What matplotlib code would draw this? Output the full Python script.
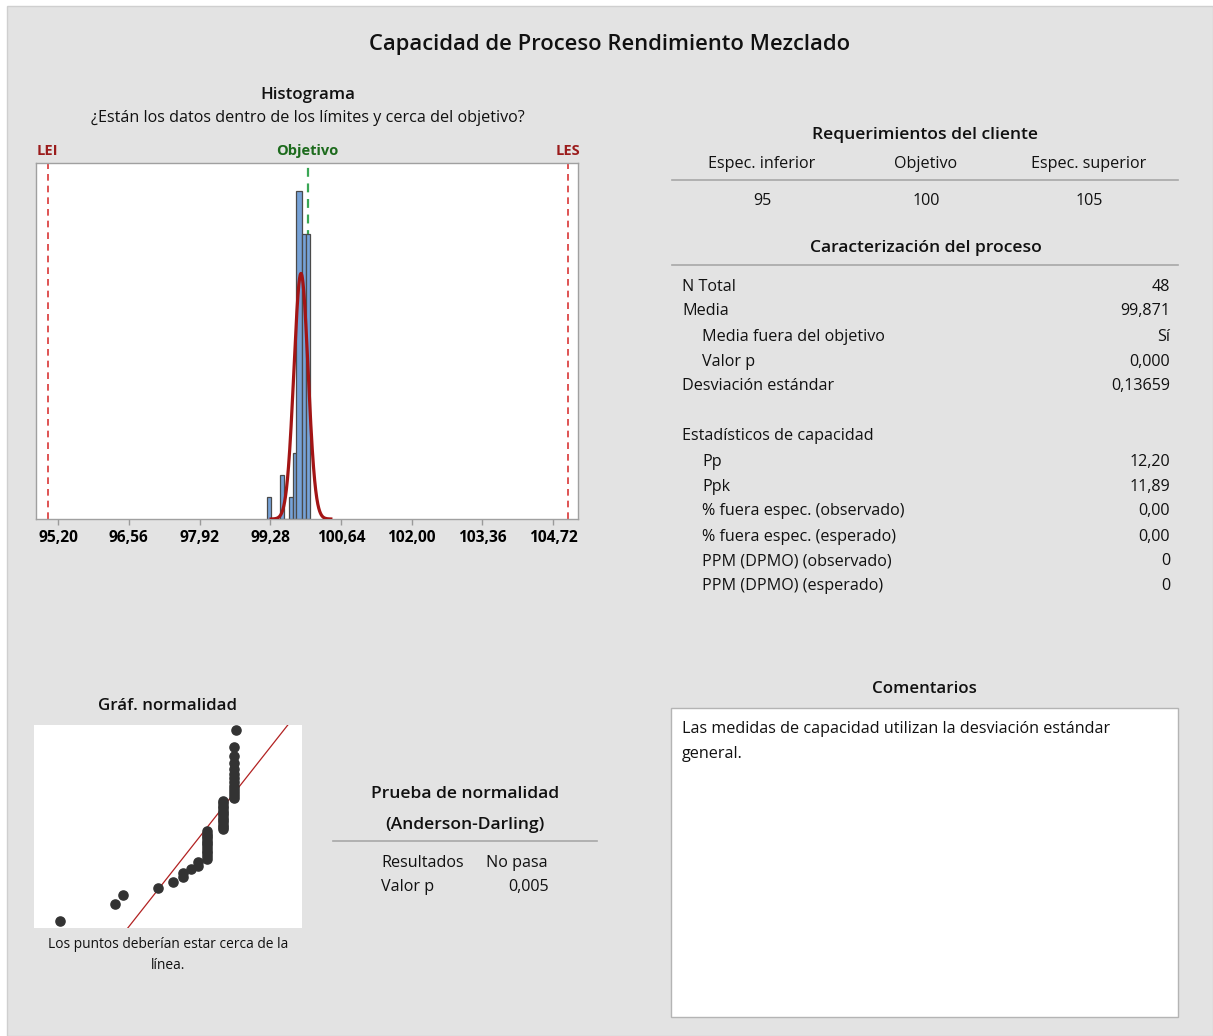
import statistics
import numpy as np
import matplotlib
matplotlib.use("Agg")
import matplotlib.pyplot as plt
from matplotlib.patches import Rectangle
from matplotlib.lines import Line2D
import matplotlib.transforms as mtransforms

# ---- data -----------------------------------------------------------------
rendimiento = [
    99.280, 99.500, 99.530, 99.670, 99.730, 99.770, 99.770, 99.800,
    99.830, 99.830, 99.866, 99.866, 99.866, 99.866, 99.866, 99.866,
    99.866, 99.866, 99.866, 99.866, 99.866, 99.866, 99.928, 99.928,
    99.928, 99.928, 99.928, 99.928, 99.928, 99.928, 99.928, 99.928,
    99.928, 99.928, 99.928, 99.971, 99.971, 99.971, 99.971, 99.971,
    99.971, 99.971, 99.971, 99.971, 99.971, 99.971, 99.971, 99.982,
]
bin_edges = [99.225, 99.298, 99.468, 99.541, 99.645, 99.708, 99.778,
             99.887, 99.962, 100.037]
curve_bin_width = 0.08

lei, objetivo, les = 95.0, 100.0, 105.0
media = 99.871
desv_std = 0.13659
hist_ticks = [95.20, 96.56, 97.92, 99.28, 100.64, 102.00, 103.36, 104.72]

req_headers = ["Espec. inferior", "Objetivo", "Espec. superior"]
req_values = ["95", "100", "105"]

proc_rows = [
    ("N Total", "48", 0),
    ("Media", "99,871", 0),
    ("Media fuera del objetivo", "Sí", 1),
    ("Valor p", "0,000", 1),
    ("Desviación estándar", "0,13659", 0),
]
cap_rows = [
    ("Estadísticos de capacidad", "", 0),
    ("Pp", "12,20", 1),
    ("Ppk", "11,89", 1),
    ("% fuera espec. (observado)", "0,00", 1),
    ("% fuera espec. (esperado)", "0,00", 1),
    ("PPM (DPMO) (observado)", "0", 1),
    ("PPM (DPMO) (esperado)", "0", 1),
]
ad_rows = [("Resultados", "No pasa"), ("Valor p", "0,005")]

# ---- figure setup ---------------------------------------------------------
W, H = 1213, 1036
plt.rcParams["font.family"] = ["Open Sans", "DejaVu Sans"]
fig = plt.figure(figsize=(W / 100, H / 100), dpi=100, facecolor="white")

BG = "#e3e3e3"
LINE = "#a8a8a8"
BODY = 11.6
HEAD = 12.6


def fx(x):
    return x / W


def fy(y):
    return 1 - y / H


def txt(x, y, s, size=BODY, weight="normal", ha="center", color="#111111"):
    # y is the visual centre of capital letters, in pixels from the top
    base = y + 0.36 * size * 100 / 72
    fig.text(fx(x), fy(base), s, ha=ha, va="baseline", fontsize=size,
             fontweight=weight, color=color)


def hline(y, x0, x1, color=LINE, lw=1.2):
    fig.add_artist(Line2D([fx(x0), fx(x1)], [fy(y), fy(y)], color=color,
                          lw=lw, transform=fig.transFigure))


fig.add_artist(Rectangle((fx(7), 0), 1 - fx(7), fy(6), transform=fig.transFigure,
                         facecolor=BG, edgecolor="#cfcfcf", lw=1.0, zorder=-10))

txt(610, 42, "Capacidad de Proceso Rendimiento Mezclado", size=15.8, weight="semibold")

# ---- histogram -------------------------------------------------------------
txt(308, 93, "Histograma", size=12.2, weight="semibold")
txt(308, 116, "¿Están los datos dentro de los límites y cerca del objetivo?")

ax = fig.add_axes([fx(35.5), fy(519), (578.3 - 35.5) / W, (519 - 163) / H])
ax.set_facecolor("white")
ax.hist(rendimiento, bins=bin_edges, color="#76a2d7", edgecolor="#4a4a4a",
        linewidth=0.9, zorder=2)
xs = np.linspace(media - 4.2 * desv_std, media + 4.2 * desv_std, 400)
pdf = np.exp(-0.5 * ((xs - media) / desv_std) ** 2) / (desv_std * np.sqrt(2 * np.pi))
ax.plot(xs, len(rendimiento) * curve_bin_width * pdf, color="#a31515", lw=2.3, zorder=3)
ax.axvline(lei, color="#d93636", lw=1.2, ls=(0, (4, 3)), zorder=1)
ax.axvline(les, color="#d93636", lw=1.2, ls=(0, (4, 3)), zorder=1)
ax.axvline(objetivo, color="#3aa655", lw=1.6, ls=(0, (4, 3)), zorder=1)
ax.set_xlim(94.765, 105.204)
ax.set_ylim(0, 16.26)
ax.set_yticks([])
ax.set_xticks(hist_ticks)
ax.set_xticklabels([f"{t:.2f}".replace(".", ",") for t in hist_ticks],
                   fontsize=11.2, fontweight="bold")
ax.tick_params(axis="x", length=4, width=1, color="#9a9a9a", pad=4)
for sp in ax.spines.values():
    sp.set_color("#a0a0a0")
    sp.set_linewidth(1.0)

tr = mtransforms.blended_transform_factory(ax.transData, ax.transAxes)
lab_y = (519 - (150 + 0.36 * 10.5 * 100 / 72)) / 356
for xv, s, c in [(lei, "LEI", "#9b1c1c"), (les, "LES", "#9b1c1c"),
                 (objetivo, "Objetivo", "#1d6b1d")]:
    ax.text(xv, lab_y, s, transform=tr, ha="center", va="baseline",
            fontsize=10.5, fontweight="bold", color=c)

# ---- customer requirements ---------------------------------------------------
txt(925, 133, "Requerimientos del cliente", size=HEAD, weight="semibold")
cols = [762, 926, 1089]
for c, h, v in zip(cols, req_headers, req_values):
    txt(c, 162, h)
    txt(c, 199, v)
hline(180, 672, 1178)

# ---- process characterization -------------------------------------------------
txt(926, 246, "Caracterización del proceso", size=HEAD, weight="semibold")
hline(265, 672, 1178)
row_y = [285, 309.5, 335, 360, 384.5]
for y, (lab, val, ind) in zip(row_y, proc_rows):
    txt(682 + 20 * ind, y, lab, ha="left")
    txt(1170, y, val, ha="right")
cap_y = [434.5, 460.5, 485, 509.5, 535, 559.5, 584.5]
for y, (lab, val, ind) in zip(cap_y, cap_rows):
    txt(682 + 20 * ind, y, lab, ha="left")
    if val:
        txt(1170, y, val, ha="right")

# ---- normal probability plot ---------------------------------------------------
txt(168, 704, "Gráf. normalidad", size=12.2, weight="semibold")
axn = fig.add_axes([fx(34), fy(928), (302 - 34) / W, (928 - 725) / H])
axn.set_facecolor("white")
n = len(rendimiento)
nd = statistics.NormalDist()
zs = [nd.inv_cdf((i - 0.3) / (n + 0.4)) for i in range(1, n + 1)]
axn.plot(sorted(rendimiento), zs, "o", color="#333333", ms=6.6, mec="#333333", zorder=3)
zl = np.array([-2.6, 2.6])
axn.plot(media + zl * desv_std, zl, color="#b22222", lw=0.9, zorder=2)
axn.set_xlim(99.177, 100.243)
axn.set_ylim(-2.35, 2.31)
axn.set_xticks([])
axn.set_yticks([])
for sp in axn.spines.values():
    sp.set_visible(False)
txt(168, 943, "Los puntos deberían estar cerca de la", size=9.9)
txt(168, 964, "línea.", size=9.9)

# ---- Anderson-Darling test -------------------------------------------------------
txt(465, 792, "Prueba de normalidad", size=HEAD, weight="semibold")
txt(465, 823, "(Anderson-Darling)", size=HEAD, weight="semibold")
hline(841, 333, 597)
txt(381, 861, ad_rows[0][0], ha="left")
txt(486.5, 861, ad_rows[0][1], ha="left")
txt(381, 885, ad_rows[1][0], ha="left")
txt(548.5, 885, ad_rows[1][1], ha="right")

# ---- comments ---------------------------------------------------------------------
txt(924, 687, "Comentarios", size=12.2, weight="semibold")
fig.add_artist(Rectangle((fx(671), fy(1017)), (1178 - 671) / W, (1017 - 708) / H,
                         transform=fig.transFigure, facecolor="white",
                         edgecolor="#b4b4b4", lw=1.0))
txt(682, 727, "Las medidas de capacidad utilizan la desviación estándar", ha="left")
txt(682, 752, "general.", ha="left")

fig.savefig("out.png", dpi=100, facecolor="white")
